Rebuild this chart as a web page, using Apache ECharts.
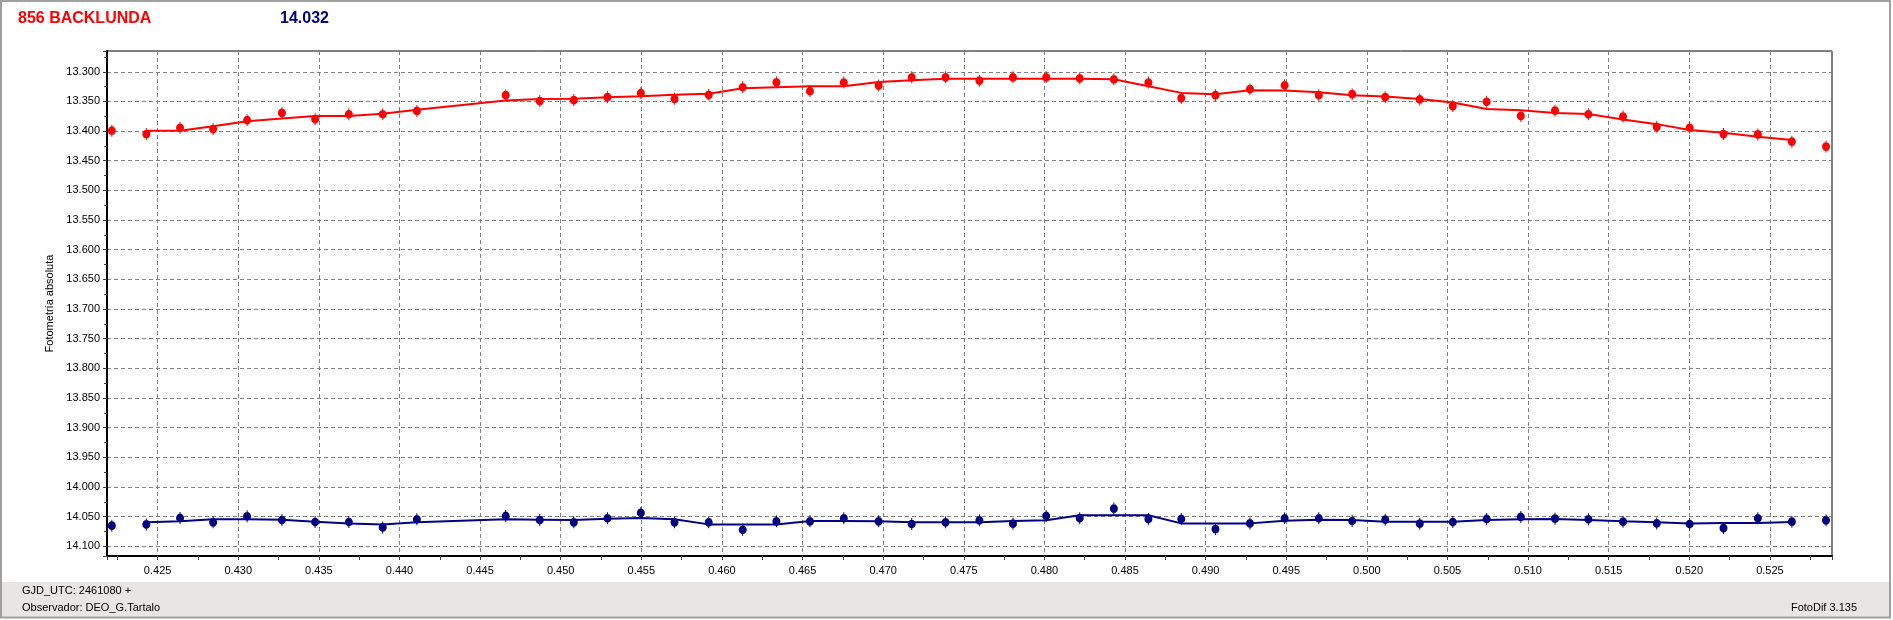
<!DOCTYPE html>
<html><head><meta charset="utf-8">
<script src="https://cdn.jsdelivr.net/npm/echarts@6/dist/echarts.min.js"></script>
<style>html,body{margin:0;padding:0;background:#fff}#c{width:1893px;height:620px}</style>
</head><body><div id="c"></div>
<script>
// GJD_UTC - 2461080
const jd = [0.42216,0.42430,0.42639,0.42844,0.43055,0.43271,0.43477,0.43686,0.43896,0.44108,
0.44659,0.44870,0.45081,0.45290,0.45497,0.45706,0.45918,0.46129,0.46338,0.46546,
0.46756,0.46972,0.47177,0.47387,0.47597,0.47805,0.48011,0.48219,0.48431,0.48645,
0.48849,0.49061,0.49275,0.49490,0.49702,0.49909,0.50114,0.50328,0.50533,0.50743,
0.50955,0.51167,0.51374,0.51589,0.51798,0.52002,0.52212,0.52425,0.52636,0.52848];
const redMag = [13.3994,13.4050,13.3944,13.3967,13.3817,13.3694,13.3800,13.3717,13.3717,13.3661,
13.3394,13.3494,13.3478,13.3428,13.3361,13.3456,13.3389,13.3261,13.3178,13.3328,
13.3183,13.3233,13.3094,13.3094,13.3150,13.3094,13.3094,13.3111,13.3128,13.3183,
13.3444,13.3394,13.3294,13.3228,13.3394,13.3378,13.3428,13.3467,13.3578,13.3506,
13.3744,13.3656,13.3717,13.3756,13.3928,13.3944,13.4050,13.4056,13.4178,13.4261];
// fitted curve, drawn from the 2nd to the 49th observation
const redFit = [13.3994,13.3994,13.3917,13.3833,13.3789,13.3744,13.3744,13.3706,13.3639,
13.3483,13.3461,13.3456,13.3428,13.3411,13.3389,13.3372,13.3278,13.3261,13.3244,
13.3244,13.3172,13.3144,13.3117,13.3117,13.3117,13.3117,13.3117,13.3128,13.3244,
13.3356,13.3378,13.3311,13.3317,13.3344,13.3394,13.3417,13.3461,13.3517,13.3628,
13.3650,13.3694,13.3711,13.3806,13.3883,13.3983,13.4028,13.4094,13.4150];
const blueMag = [14.0653,14.0631,14.0523,14.0597,14.0494,14.0557,14.0591,14.0591,14.0682,14.0545,
14.0489,14.0557,14.0597,14.0528,14.0438,14.0597,14.0597,14.0722,14.0580,14.0580,
14.0528,14.0580,14.0625,14.0597,14.0563,14.0619,14.0489,14.0528,14.0364,14.0540,
14.0540,14.0710,14.0614,14.0528,14.0528,14.0574,14.0551,14.0619,14.0591,14.0540,
14.0506,14.0534,14.0545,14.0585,14.0614,14.0625,14.0693,14.0528,14.0585,14.0563];
const blueFit = [14.0597,14.0580,14.0545,14.0545,14.0551,14.0585,14.0614,14.0631,14.0597,
14.0545,14.0551,14.0557,14.0534,14.0523,14.0545,14.0631,14.0631,14.0631,14.0574,
14.0574,14.0580,14.0597,14.0597,14.0597,14.0574,14.0560,14.0477,14.0477,14.0477,
14.0614,14.0614,14.0614,14.0568,14.0551,14.0557,14.0585,14.0585,14.0585,14.0557,
14.0545,14.0540,14.0557,14.0580,14.0597,14.0614,14.0608,14.0608,14.0591];

const titleText = '856 BACKLUNDA';
const compText = '14.032';
const yName = 'Fotometría absoluta';
const footLeft1 = 'GJD_UTC: 2461080 +';
const footLeft2 = 'Observador: DEO_G.Tartalo';
const footRight = 'FotoDif 3.135';

const xMin = 0.42186, xMax = 0.52885, xStep = 0.005;
const yMin = 13.265, yMax = 14.1164, yStep = 0.05;

const RED = '#ff0000', NAVY = '#000080';
const FONT = 'Liberation Sans, Arial, sans-serif';
const markPath = 'path://M0,5.5A4,4,0,1,1,8,5.5A4,4,0,1,1,0,5.5ZM3.5,0L4.5,0L4.5,11L3.5,11Z';

const zip = (xs, ys) => ys.map((y, i) => [xs[i], y]);
const fitX = jd.slice(1, 1 + redFit.length);

const chart = echarts.init(document.getElementById('c'), null, {renderer: 'canvas'});
chart.setOption({
  animation: false,
  backgroundColor: '#ffffff',
  title: [
    {text: titleText, left: 18, top: 11, padding: 0,
     textStyle: {color: RED, fontSize: 16, fontWeight: 'bold', fontFamily: FONT, lineHeight: 16}},
    {text: compText, left: 280, top: 11, padding: 0,
     textStyle: {color: NAVY, fontSize: 16, fontWeight: 'bold', fontFamily: FONT, lineHeight: 16}}
  ],
  grid: {left: 107, top: 51, width: 1725, height: 505, show: true,
         borderColor: '#000', borderWidth: 1, backgroundColor: '#fff', containLabel: false},
  xAxis: {
    type: 'value', min: xMin, max: xMax, splitNumber: 21,
    minInterval: xStep, maxInterval: xStep,
    axisLine: {show: true, onZero: false, lineStyle: {color: '#000', width: 2}},
    axisTick: {show: true, length: 4, lineStyle: {color: '#404040'}},
    minorTick: {show: true, splitNumber: 2, length: 4, lineStyle: {color: '#404040'}},
    axisLabel: {formatter: v => v.toFixed(3), fontSize: 11, color: '#000', fontFamily: FONT,
                margin: 9, showMinLabel: false, showMaxLabel: false},
    splitLine: {show: true, lineStyle: {color: '#808080', type: [4, 3], width: 1}}
  },
  yAxis: {
    type: 'value', inverse: true, min: yMin, max: yMax, splitNumber: 17,
    minInterval: yStep, maxInterval: yStep,
    name: yName, nameLocation: 'middle', nameGap: 46,
    nameTextStyle: {fontSize: 11, color: '#000', fontFamily: FONT},
    axisLine: {show: true, onZero: false, lineStyle: {color: '#000', width: 2}},
    axisTick: {show: true, length: 4, lineStyle: {color: '#404040'}},
    minorTick: {show: true, splitNumber: 2, length: 3, lineStyle: {color: '#404040'}},
    axisLabel: {formatter: v => v.toFixed(3), fontSize: 11, color: '#000', fontFamily: FONT,
                margin: 7, showMinLabel: false, showMaxLabel: false},
    splitLine: {show: true, lineStyle: {color: '#808080', type: [4, 3], width: 1}}
  },
  series: [
    {type: 'line', data: zip(fitX, redFit), showSymbol: false, symbol: 'none',
     lineStyle: {color: RED, width: 2}, z: 2, silent: true},
    {type: 'scatter', data: zip(jd, redMag), symbol: markPath, symbolSize: [8, 12],
     itemStyle: {color: RED, opacity: 1}, z: 3},
    {type: 'line', data: zip(fitX, blueFit), showSymbol: false, symbol: 'none',
     lineStyle: {color: NAVY, width: 2}, z: 2, silent: true},
    {type: 'scatter', data: zip(jd, blueMag), symbol: markPath, symbolSize: [8, 12],
     itemStyle: {color: NAVY, opacity: 1}, z: 3}
  ],
  graphic: [
    {type: 'rect', z: -10, silent: true, shape: {x: 2, y: 582, width: 1888, height: 35},
     style: {fill: '#e8e6e4'}},
    {type: 'rect', z: 100, silent: true, shape: {x: 1, y: 1, width: 1889, height: 616.5},
     style: {fill: null, stroke: '#a0a0a0', lineWidth: 2}},
    {type: 'text', left: 22, top: 585, silent: true,
     style: {text: footLeft1, fontSize: 11, fill: '#000', fontFamily: FONT}},
    {type: 'text', left: 22, top: 602, silent: true,
     style: {text: footLeft2, fontSize: 11, fill: '#000', fontFamily: FONT}},
    {type: 'text', right: 36, top: 602, silent: true,
     style: {text: footRight, fontSize: 11, fill: '#000', fontFamily: FONT}}
  ]
});
</script>
</body></html>
